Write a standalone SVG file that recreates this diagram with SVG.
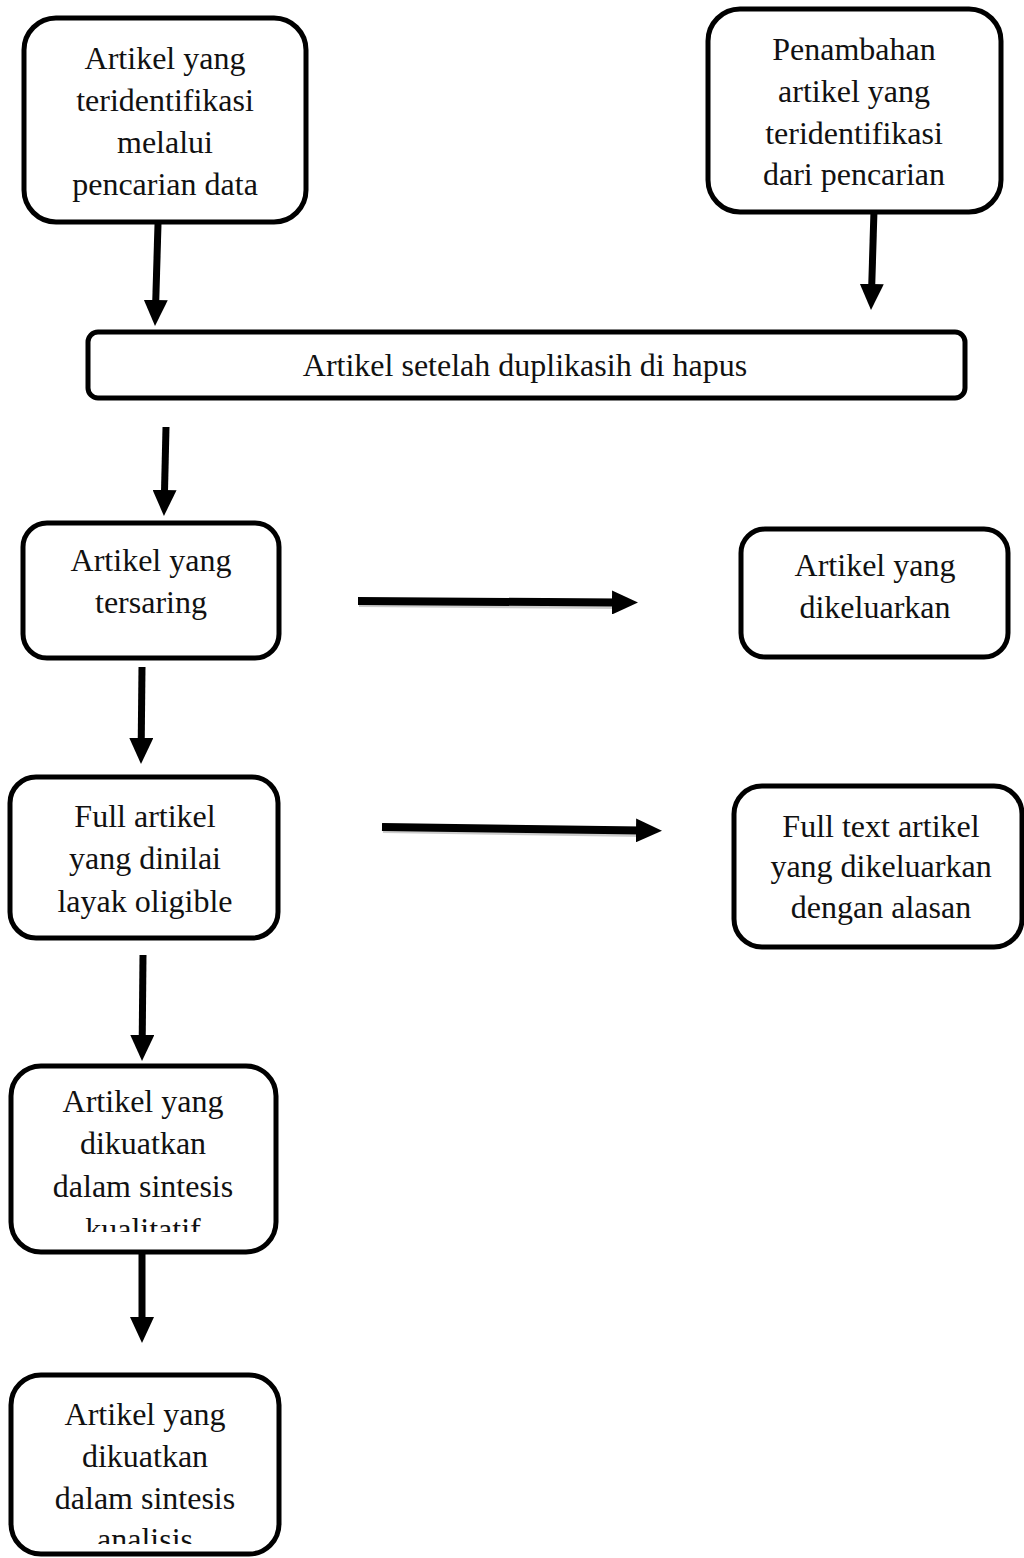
<svg xmlns="http://www.w3.org/2000/svg" width="1024" height="1558" viewBox="0 0 1024 1558">
<style>
.box{fill:#fff;stroke:#000;stroke-width:5}
.t{font-family:"Liberation Serif","Times New Roman",serif;font-size:32px;fill:#111;text-anchor:middle}
.c{stroke:#000;stroke-width:7;fill:none;marker-end:url(#ah)}
.s{stroke:#aaa;stroke-width:8;fill:none;opacity:0.6}
</style>
<defs>
<marker id="ah" markerUnits="userSpaceOnUse" viewBox="0 0 26 24" refX="6" refY="12" markerWidth="26" markerHeight="24" orient="auto">
<path d="M0,0 L26,12 L0,24 z" fill="#000"/>
</marker>
<clipPath id="clip7"><rect x="0" y="1060" width="300" height="172"/></clipPath>
<clipPath id="clip8"><rect x="0" y="1370" width="300" height="174"/></clipPath>
</defs>
<rect width="1024" height="1558" fill="#fff"/>
<g id="connectors">
<line class="s" x1="359" y1="603" x2="618" y2="605"/>
<line class="s" x1="383" y1="829" x2="642" y2="833"/>
<line class="c" x1="158" y1="224" x2="155.6" y2="306"/>
<line class="c" x1="874" y1="210" x2="871.6" y2="290"/>
<line class="c" x1="166" y1="427" x2="164.4" y2="496"/>
<line class="c" x1="142" y1="667" x2="141.2" y2="744"/>
<line class="c" x1="358" y1="601" x2="618" y2="602.5" style="stroke-width:8"/>
<line class="c" x1="382" y1="827" x2="642" y2="830.5" style="stroke-width:8"/>
<line class="c" x1="143" y1="955" x2="142.2" y2="1041"/>
<line class="c" x1="142" y1="1252" x2="142" y2="1323"/>
</g>
<g id="n1">
<rect class="box" x="24" y="18" width="282" height="204" rx="32"/>
<text class="t"><tspan x="165" y="69">Artikel yang</tspan><tspan x="165" y="111">teridentifikasi</tspan><tspan x="165" y="153">melalui</tspan><tspan x="165" y="195">pencarian data</tspan></text>
</g>
<g id="n2">
<rect class="box" x="708" y="9" width="293" height="203" rx="32"/>
<text class="t"><tspan x="854" y="60">Penambahan</tspan><tspan x="854" y="102">artikel yang</tspan><tspan x="854" y="144">teridentifikasi</tspan><tspan x="854" y="185">dari pencarian</tspan></text>
</g>
<g id="n3">
<rect class="box" x="88" y="332" width="877" height="66" rx="10"/>
<text class="t" x="525" y="376">Artikel setelah duplikasih di hapus</text>
</g>
<g id="n4">
<rect class="box" x="23" y="523" width="256" height="135" rx="24"/>
<text class="t"><tspan x="151" y="571">Artikel yang</tspan><tspan x="151" y="613">tersaring</tspan></text>
</g>
<g id="n5">
<rect class="box" x="741" y="529" width="267" height="128" rx="24"/>
<text class="t"><tspan x="875" y="576">Artikel yang</tspan><tspan x="875" y="618">dikeluarkan</tspan></text>
</g>
<g id="n6">
<rect class="box" x="10" y="777" width="268" height="161" rx="26"/>
<text class="t"><tspan x="145" y="827">Full artikel</tspan><tspan x="145" y="869">yang dinilai</tspan><tspan x="145" y="912">layak oligible</tspan></text>
</g>
<g id="n7">
<rect class="box" x="734" y="786" width="288" height="161" rx="28"/>
<text class="t"><tspan x="881" y="837">Full text artikel</tspan><tspan x="881" y="877">yang dikeluarkan</tspan><tspan x="881" y="918">dengan alasan</tspan></text>
</g>
<g id="n8">
<rect class="box" x="11" y="1066" width="265" height="186" rx="30"/>
<text class="t" clip-path="url(#clip7)"><tspan x="143" y="1112">Artikel yang</tspan><tspan x="143" y="1154">dikuatkan</tspan><tspan x="143" y="1197">dalam sintesis</tspan><tspan x="143" y="1240">kualitatif</tspan></text>
</g>
<g id="n9">
<rect class="box" x="11" y="1375" width="268" height="179" rx="30"/>
<text class="t" clip-path="url(#clip8)"><tspan x="145" y="1425">Artikel yang</tspan><tspan x="145" y="1467">dikuatkan</tspan><tspan x="145" y="1509">dalam sintesis</tspan><tspan x="145" y="1550">analisis</tspan></text>
</g>
</svg>
